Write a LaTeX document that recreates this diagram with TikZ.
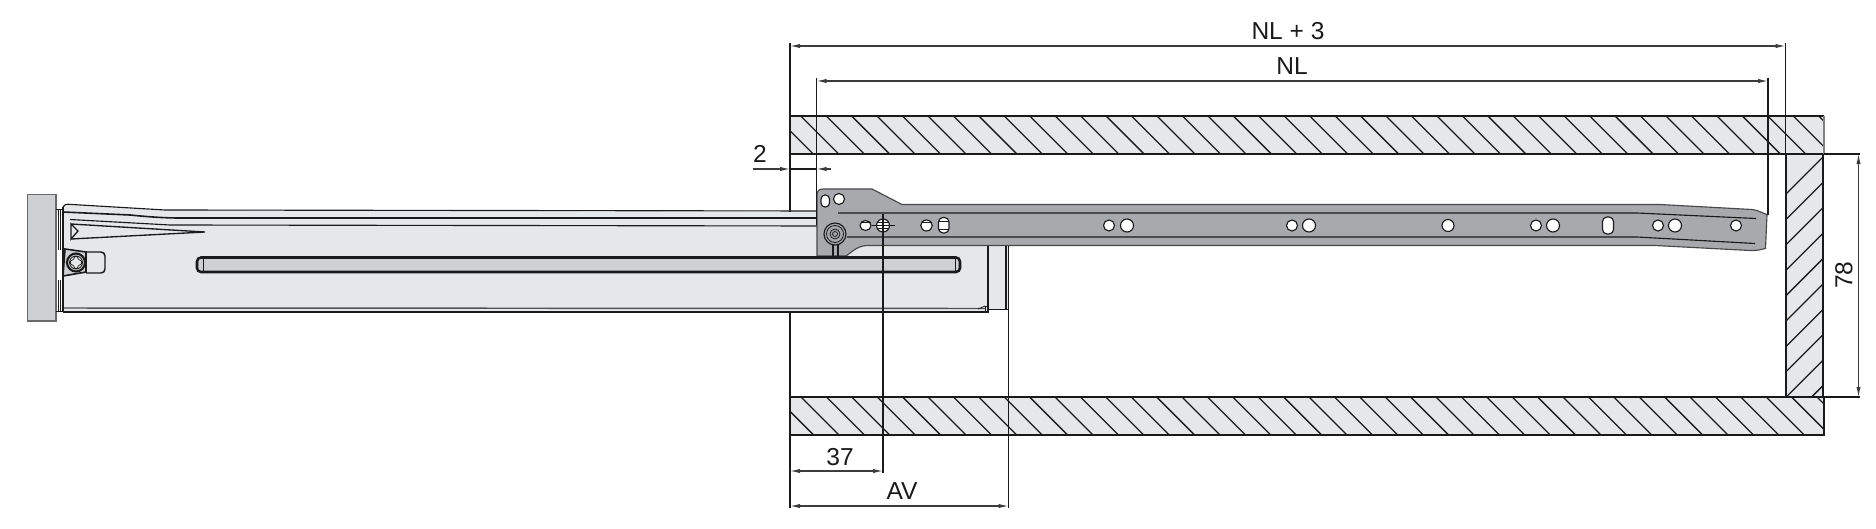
\documentclass[tikz,border=0pt]{standalone}
\usepackage{fontspec}
\setmainfont{Liberation Sans}
\usetikzlibrary{arrows.meta}
\definecolor{wallfill}{HTML}{E6E7E8}
\definecolor{panelfill}{HTML}{CFD0D2}
\definecolor{railfill}{HTML}{A7A9AC}
\definecolor{ink}{HTML}{1A1A1A}
\tikzset{
  wall/.style={fill=wallfill,draw=none},
  walledge/.style={draw=ink,line width=1.0pt},
  hatchline/.style={draw=ink,line width=0.95pt},
  ext/.style={draw=ink,line width=0.8pt},
  dimline/.style={draw=ink!85,line width=0.8pt,{Latex[length=7.5pt,width=3.2pt]}-{Latex[length=7.5pt,width=3.2pt]}},
  dimtip/.style={draw=ink!85,line width=0.8pt,-{Latex[length=7.5pt,width=3.2pt]}},
  dimtext/.style={font=\fontsize{18.4pt}{20pt}\selectfont,text=ink,inner sep=0pt},
  part/.style={draw=ink,line width=0.85pt},
  thinpart/.style={draw=ink,line width=0.6pt},
  hole/.style={fill=white,draw=ink,line width=0.85pt},
}
\begin{document}
\begin{tikzpicture}[x=0.75pt,y=-0.75pt]
\useasboundingbox (0,0) rectangle (1876,528);
% ---------- walls ----------
\fill[wall] (790,116) rectangle (1824,154);
\fill[wall] (790,397) rectangle (1824,435);
\fill[wall] (1786,154) rectangle (1823,397);
\begin{scope}
  \clip (790,116) rectangle (1824,154);
  \foreach \k in {-2,...,40} \draw[hatchline] ({800.7+25.45*\k},116) -- ++(38,38);
\end{scope}
\begin{scope}
  \clip (790,397) rectangle (1824,435);
  \foreach \k in {-2,...,41} \draw[hatchline] ({801+25.4*\k},397) -- ++(38,38);
\end{scope}
\begin{scope}
  \clip (1786,154) rectangle (1823,397);
  \foreach \k in {0,...,9} \draw[hatchline] (1786,{194+25.4*\k}) -- ++(38,-38);
\end{scope}
\draw[walledge] (790,154) -- (790,116) -- (1824,116);
\draw[walledge] (790,154) -- (1824,154);
\draw[walledge,draw=ink!55] (1824,154) -- (1824,116);
\draw[walledge] (790,435) -- (790,397) -- (1824,397) -- (1824,435) -- cycle;
\draw[walledge] (1786,154) -- (1786,397);
\draw[walledge] (1823,154) -- (1823,397);
% ---------- extension lines behind the drawer ----------
\coordinate (e0t) at (790,43);
\coordinate (e0a) at (790,212);
\coordinate (e0b) at (790,313);
\coordinate (e0e) at (790,508);
\draw[ext] (e0t) -- (e0a);
\draw[ext] (e0b) -- (e0e);
% ---------- drawer ----------
\fill[wallfill] (63,207) .. controls (64,204) and (66,204) .. (72,204.5)
   -- (165,210) -- (826,212) -- (826,246) -- (988,246) -- (1008,246) -- (1008,309) -- (988,309) -- (988,312) -- (63,312) -- cycle;
\fill[panelfill,draw=ink!65,line width=0.8pt] (27.5,194.5) rectangle (56,321);
\draw[part] (63,207) .. controls (64,204) and (66,204) .. (72,204.5) -- (165,210) -- (826,211);
\draw[part,line width=1.2pt] (63,212) -- (130,215) .. controls (150,217) and (165,218) .. (180,218) -- (826,218);
\draw[part] (70,219.5) -- (170,225) -- (826,226);
\draw[part,draw=ink!75,line width=1.1pt] (63,308) -- (985,308.5);
\draw[part] (63,312) -- (988,312);
\draw[part] (63,207) -- (63,312);
\draw[thinpart] (56,209) -- (62,209);
\draw[thinpart] (56,311) -- (62,311);
\draw[thinpart] (58,209) -- (58,250);
\draw[part,line width=1.1pt] (60.5,210) -- (60.5,250);
\draw[thinpart] (58,280) -- (58,311);
\draw[part] (60.5,280) -- (60.5,311);
\draw[part,line width=1.1pt] (988,246) -- (988,312);
\draw[part] (1006,246) -- (1006,309);
\draw[thinpart] (988,309) -- (1008,309);
\draw[thinpart] (985,306) rectangle (988.5,312);
\draw[thinpart] (978,309) -- (985,306);
% triangle embossing
\draw[part,line width=1pt] (78,231) -- (71,224) -- (71,239) -- cycle;
\draw[part,line width=1pt] (71,224) -- (205,232) -- (71,239);
% clip and screw
\draw[part,line width=1.1pt,fill=wallfill] (86,252) [rounded corners=3pt] -- (105,252) -- (105,273) -- (86,273);
\fill[panelfill] (64,250) -- (86,252) -- (86,272) -- (64,276) -- cycle;
\draw[part,line width=1.2pt] (65,249) -- (86,252) -- (86,272) -- (63,276) -- cycle;
\draw[part,line width=1.6pt,fill=panelfill] (76,262.5) circle (9);
\draw[thinpart,fill=wallfill] (76,262.5) circle (6.5);
\draw[thinpart,rounded corners=1pt] (74,256.5) -- (78,256.5) -- (78,260) -- (81.5,260) -- (81.5,265) -- (78,265) -- (78,268.5) -- (74,268.5) -- (74,265) -- (70.5,265) -- (70.5,260) -- (74,260) -- cycle;
% ---------- rail ----------
\path[fill=railfill,draw=ink!80,line width=0.85pt] (817,256) -- (817,195) .. controls (817,191) and (819,189) .. (823,189)
   -- (872,189) -- (902,204.5) -- (1660,204.5) -- (1752,209.5) .. controls (1758,210) and (1762,213) .. (1767,214.5)
   -- (1765.5,248.5) .. controls (1762,249) and (1758,251) .. (1750,250.5) -- (1655,245.5) -- (868,245.5)
   .. controls (858,245.5) and (853,251) .. (846,256) -- cycle;
\draw[part] (838,213) -- (1637,213) -- (1756,218.5);
\draw[part] (847,237) -- (1637,237) -- (1755,243.5);
% rail holes
\foreach \px/\pr in {1109/5.5,1127/6.5,1292/5.5,1309/6.5,1448/6,1536/5.5,1553/6.5,1658/5.5,1675/6.5,1736/5.5}
  \draw[hole] (\px,225.5) circle (\pr);
\draw[hole] (839,199) circle (5.5);
\draw[hole,rounded corners=3pt] (821,195) rectangle (829.5,207);
\draw[hole,rounded corners=3.4pt] (1602.5,217) rectangle (1613.5,234);
\draw[hole,rounded corners=3.4pt] (938.5,217.5) rectangle (949,233);
\draw[thinpart] (938.5,221.5) -- (949,221.5);
\draw[thinpart] (938.5,229) -- (949,229);
\draw[hole] (926.5,225.5) ellipse (5.8 and 5.5);
\draw[thinpart] (921.5,222.5) -- (931.5,222.5);
\draw[hole] (865.5,225.5) ellipse (5.5 and 5);
\draw[thinpart] (860.5,222.5) -- (870.5,222.5);
\draw[hole] (883,225.5) circle (6.5);
\draw[thinpart] (872,225.5) -- (895,225.5);
\draw[thinpart] (877,222.5) -- (889,222.5);
\draw[thinpart] (877,228.5) -- (889,228.5);
% rivet
\draw[part] (833,244) -- (833,258);
\draw[part] (838,244) -- (838,258);
\draw[part,fill=railfill] (835,234) circle (11);
\draw[thinpart] (835,234) circle (8.5);
\draw[thinpart] (835,234) circle (5);
\draw[thinpart] (835,234) circle (2.5);
% ---------- slot over everything ----------
\draw[draw=ink,line width=1.9pt,fill=panelfill,rounded corners=3pt] (197,257.5) rectangle (960,272);
\draw[thinpart] (203,258) -- (203,271.5);
\draw[thinpart] (955,258) -- (955,271.5);
% ---------- extension lines ----------
\coordinate (e1t) at (816.5,78);
\coordinate (e1b) at (816.5,225);
\coordinate (e2t) at (883,214);
\coordinate (e2b) at (883,473);
\coordinate (e3t) at (1008.5,246);
\coordinate (e3b) at (1008.5,508);
\coordinate (e4t) at (1785.5,43);
\coordinate (e4b) at (1785.5,154);
\coordinate (e5t) at (1768,78);
\coordinate (e5b) at (1768,215);
\coordinate (e6a) at (1824,154);
\coordinate (e6b) at (1860,154);
\coordinate (e7a) at (1824,397);
\coordinate (e7b) at (1860,397);
\foreach \a/\b in {e1t/e1b,e2t/e2b,e3t/e3b,e4t/e4b,e5t/e5b,e6a/e6b,e7a/e7b}
  \draw[ext] (\a) -- (\b);
% ---------- dimensions ----------
\coordinate (d1a) at (790,46);   \coordinate (d1b) at (1785.5,46);
\coordinate (d2a) at (816.5,81); \coordinate (d2b) at (1768,81);
\coordinate (d3a) at (790,471);  \coordinate (d3b) at (883,471);
\coordinate (d4a) at (790,506);  \coordinate (d4b) at (1008.5,506);
\coordinate (d5a) at (1858.5,154); \coordinate (d5b) at (1858.5,397);
\foreach \a/\b in {d1a/d1b,d2a/d2b,d3a/d3b,d4a/d4b,d5a/d5b}
  \draw[dimline] (\a) -- (\b);
\coordinate (d6s) at (753,169);  \coordinate (d6a) at (790,169);
\coordinate (d7s) at (831,169);  \coordinate (d7a) at (816.5,169);
\draw[dimtip] (d6s) -- (d6a);
\draw[dimtip,{Latex[length=7.5pt,width=3.2pt]}-] (d7a) -- (d7s);
\draw[ext] (d6a) -- (d7a);
% ---------- labels ----------
\node[dimtext] (tnl3) at (1288,31) {NL + 3};
\node[dimtext] (tnl) at (1292,66) {NL};
\node[dimtext] (t2) at (760,154) {2};
\node[dimtext] (t37) at (840,457) {37};
\node[dimtext] (tav) at (902,491.5) {AV};
\node[dimtext,rotate=90] (t78) at (1844,275) {78};
\end{tikzpicture}
\end{document}
